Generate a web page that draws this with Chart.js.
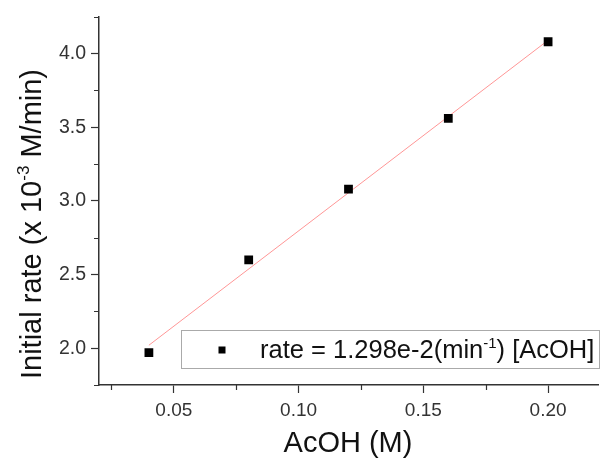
<!DOCTYPE html>
<html lang="en">
<head>
<meta charset="UTF-8">
<title>Initial rate vs AcOH</title>
<script src="https://cdn.jsdelivr.net/npm/chart.js"></script>
<style>
  body { margin: 0; background: #fff; }
  .chart-container { width: 605px; height: 460px; }
</style>
</head>
<body>
<div class="chart-container"><canvas id="rateChart"></canvas></div>
<script>
// data
const acoh = [0.04, 0.08, 0.12, 0.16, 0.20];
const initialRate = [1.97, 2.60, 3.08, 3.56, 4.08];
// linear fit line end points
const fitX = [0.04, 0.20];
const fitY = [2.02, 4.09];
// labelled (major) ticks, minor ticks sit half-way between
const xTickLabels = ['0.05', '0.10', '0.15', '0.20'];
const yTickLabels = ['2.0', '2.5', '3.0', '3.5', '4.0'];

const FONT = "'Liberation Sans', Arial, sans-serif";
const AXIS_COLOR = '#333';

const isMajorX = v => xTickLabels.includes(v.toFixed(2));
const isMajorY = v => Math.abs(v * 2 - Math.round(v * 2)) < 1e-6 && yTickLabels.includes(v.toFixed(1));

// draw a string made of normal + superscript pieces
function drawRichText(ctx, parts, x, y, size, align) {
    const supSize = Math.round(size * 0.6);
    let total = 0;
    parts.forEach(p => {
        ctx.font = (p.sup ? supSize : size) + 'px ' + FONT;
        p.w = ctx.measureText(p.t).width;
        total += p.w;
    });
    let cx = align === 'center' ? x - total / 2 : x;
    parts.forEach(p => {
        ctx.font = (p.sup ? supSize : size) + 'px ' + FONT;
        ctx.fillText(p.t, cx, p.sup ? y - size * 0.4 : y);
        cx += p.w;
    });
}

const decorPlugin = {
    id: 'decor',
    afterDraw(chart) {
        const ctx = chart.ctx;
        const area = chart.chartArea;
        const xs = chart.scales.x, ys = chart.scales.y;
        ctx.save();

        // minor tick marks (shorter than the major ones)
        ctx.strokeStyle = AXIS_COLOR;
        ctx.lineWidth = 1.2;
        ctx.beginPath();
        xs.ticks.forEach(t => {
            if (isMajorX(t.value)) return;
            const px = Math.round(xs.getPixelForValue(t.value)) + 0.5;
            ctx.moveTo(px, area.bottom);
            ctx.lineTo(px, area.bottom + 5);
        });
        ys.ticks.forEach(t => {
            if (isMajorY(t.value)) return;
            const py = Math.round(ys.getPixelForValue(t.value)) + 0.5;
            ctx.moveTo(area.left, py);
            ctx.lineTo(area.left - 5, py);
        });
        ctx.stroke();

        ctx.fillStyle = '#111';
        ctx.textBaseline = 'alphabetic';
        ctx.textAlign = 'left';

        // x title
        drawRichText(ctx, [{t: 'AcOH (M)'}], 348, 452, 29, 'center');

        // y title
        ctx.save();
        ctx.translate(41, 224);
        ctx.rotate(-Math.PI / 2);
        drawRichText(ctx, [
            {t: 'Initial rate (x 10'},
            {t: '-3', sup: true},
            {t: ' M/min)'}
        ], 0, 0, 29, 'center');
        ctx.restore();

        // legend box
        ctx.fillStyle = '#fff';
        ctx.fillRect(181.5, 330.5, 418, 38);
        ctx.strokeStyle = '#aaa';
        ctx.lineWidth = 1;
        ctx.strokeRect(181.5, 330.5, 418, 38);
        ctx.fillStyle = '#000';
        ctx.fillRect(218.5, 346.5, 7, 7);
        ctx.fillStyle = '#111';
        drawRichText(ctx, [
            {t: 'rate = 1.298e-2(min'},
            {t: '-1', sup: true},
            {t: ') [AcOH]'}
        ], 260, 358, 25.5, 'left');
        ctx.restore();
    }
};

function tickList(min, max, step) {
    const out = [];
    for (let v = min; v <= max + 1e-9; v += step) out.push({value: +v.toFixed(4)});
    return out;
}

new Chart(document.getElementById('rateChart'), {
    type: 'scatter',
    data: {
        datasets: [{
            label: 'fit',
            type: 'line',
            data: fitX.map((x, i) => ({x: x, y: fitY[i]})),
            borderColor: 'rgb(255,150,150)',
            borderWidth: 1,
            pointRadius: 0,
            fill: false,
            order: 1
        }, {
            label: 'rate = 1.298e-2(min-1) [AcOH]',
            data: acoh.map((x, i) => ({x: x, y: initialRate[i]})),
            pointStyle: 'rect',
            pointRadius: 6.2,
            backgroundColor: '#000',
            borderColor: '#000',
            borderWidth: 0,
            order: 0
        }]
    },
    options: {
        responsive: true,
        maintainAspectRatio: false,
        animation: false,
        layout: { padding: { left: 0, right: 7, top: 15, bottom: 0 } },
        plugins: {
            legend: { display: false },
            tooltip: { enabled: false }
        },
        scales: {
            x: {
                type: 'linear',
                min: 0.02,
                max: 0.22,
                afterBuildTicks: s => { s.ticks = tickList(0.025, 0.2, 0.025); },
                afterFit: s => { s.height = 75; },
                border: { color: AXIS_COLOR, width: 1.5 },
                grid: {
                    drawOnChartArea: false,
                    tickLength: 8,
                    tickWidth: 1.2,
                    tickColor: c => isMajorX(c.tick.value) ? AXIS_COLOR : 'rgba(0,0,0,0)'
                },
                ticks: {
                    autoSkip: false,
                    maxRotation: 0,
                    padding: 6,
                    color: '#333',
                    font: { family: FONT, size: 19 },
                    callback: v => isMajorX(v) ? v.toFixed(2) : ''
                }
            },
            y: {
                min: 1.75,
                max: 4.25,
                afterBuildTicks: s => { s.ticks = tickList(1.75, 4.25, 0.25); },
                afterFit: s => { s.width = 99; },
                border: { color: AXIS_COLOR, width: 1.5 },
                grid: {
                    drawOnChartArea: false,
                    tickLength: 8,
                    tickWidth: 1.2,
                    tickColor: c => isMajorY(c.tick.value) ? AXIS_COLOR : 'rgba(0,0,0,0)'
                },
                ticks: {
                    autoSkip: false,
                    padding: 5,
                    color: '#333',
                    font: { family: FONT, size: 19.5 },
                    callback: v => isMajorY(v) ? v.toFixed(1) : ''
                }
            }
        }
    },
    plugins: [decorPlugin]
});
</script>
</body>
</html>
